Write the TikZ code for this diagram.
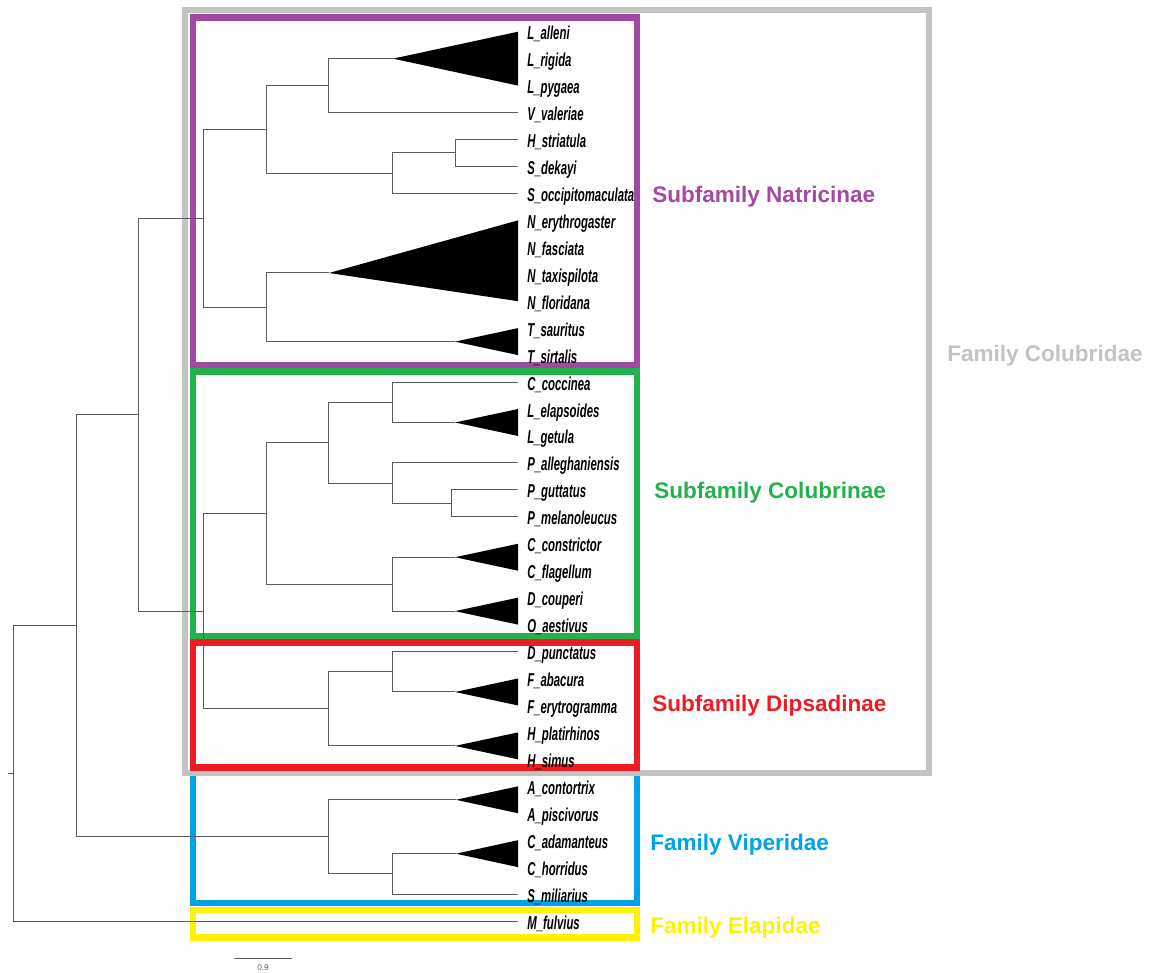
\documentclass[tikz,border=0pt]{standalone}
\usepackage{fontspec}
\setmainfont{Liberation Sans}
\newfontfamily\leaffont[FakeStretch=0.61]{Liberation Sans}
\usetikzlibrary{calc}
\definecolor{cpurple}{HTML}{A349A4}
\definecolor{cgreen}{HTML}{22B14C}
\definecolor{cred}{HTML}{ED1C24}
\definecolor{cblue}{HTML}{00A2E8}
\definecolor{cyellow}{HTML}{FFF200}
\definecolor{cgray}{HTML}{C3C3C3}
\definecolor{branch}{HTML}{5A5A5A}
\tikzset{
  br/.style={draw=branch, line width=0.75pt},
  tri/.style={fill=black},
  leaf/.style={anchor=base west, inner sep=0pt, font=\leaffont\bfseries\itshape\fontsize{14}{16}\selectfont},
  grp/.style={anchor=base west, inner sep=0pt, font=\bfseries\fontsize{16.9}{20}\selectfont},
  gbox/.style={line width=4.9pt}
}
\begin{document}
\begin{tikzpicture}[x=0.75pt,y=-0.75pt]
\useasboundingbox (0,0) rectangle (1162,973);
% group boxes
\draw[gbox, cblue] (193,773) rectangle (637,903);
\draw[gbox, cyellow] (193,910) rectangle (637,937.5);
\draw[gbox, cgray] (185,10) rectangle (929,773);
\draw[gbox, cpurple] (193,17.3) rectangle (637,365.7);
\draw[gbox, cgreen] (193,371.5) rectangle (637,636);
\draw[gbox, cred] (193,642.5) rectangle (637,767.5);
% leaves
\foreach \n [count=\i from 0] in {L\_alleni,L\_rigida,L\_pygaea,V\_valeriae,H\_striatula,S\_dekayi,S\_occipitomaculata,N\_erythrogaster,N\_fasciata,N\_taxispilota,N\_floridana,T\_sauritus,T\_sirtalis,C\_coccinea,L\_elapsoides,L\_getula,P\_alleghaniensis,P\_guttatus,P\_melanoleucus,C\_constrictor,C\_flagellum,D\_couperi,O\_aestivus,D\_punctatus,F\_abacura,F\_erytrogramma,H\_platirhinos,H\_simus,A\_contortrix,A\_piscivorus,C\_adamanteus,C\_horridus,S\_miliarius,M\_fulvius}{
  \coordinate (l\i) at (518,{31.7+26.95*\i});
  \node[leaf] (t\i) at (527,{39.7+26.95*\i}) {\n};
}
% internal nodes and collapsed-clade apices
\coordinate (aL) at (393,58.65);
\coordinate (nL) at (328,85.6);
\coordinate (nHS) at (455,152.98);
\coordinate (nHSS) at (392,173.19);
\coordinate (nA) at (266,129.4);
\coordinate (aN) at (329,273);
\coordinate (aT) at (455,341.63);
\coordinate (nB) at (266,307.3);
\coordinate (nNat) at (203,218.35);
\coordinate (aLe) at (455,422.48);
\coordinate (nCc) at (392,402.26);
\coordinate (nPgm) at (451,503.33);
\coordinate (nP) at (392,483.1);
\coordinate (nCL) at (328,442.7);
\coordinate (aCc) at (455,557.23);
\coordinate (aD) at (455,611.13);
\coordinate (nCD) at (392,584.18);
\coordinate (nCol) at (266,513.44);
\coordinate (aF) at (455,691.98);
\coordinate (nDF) at (392,671.76);
\coordinate (aH) at (455,745.88);
\coordinate (nDip) at (328,708.82);
\coordinate (nCD2) at (203,611.13);
\coordinate (nColub) at (138,414.74);
\coordinate (aA) at (456,799.78);
\coordinate (aCr) at (456,853.68);
\coordinate (nCr) at (392,873.89);
\coordinate (nVip) at (328,836.83);
\coordinate (nCV) at (76,625.79);
\coordinate (root) at (13,773.42);
\coordinate (rtick) at (8,773.42);
% collapsed clades
\fill[tri] (aL) -- (l0) -- (l2) -- cycle;
\fill[tri] (aN) -- (l7) -- (l10) -- cycle;
\fill[tri] (aT) -- (l11) -- (l12) -- cycle;
\fill[tri] (aLe) -- (l14) -- (l15) -- cycle;
\fill[tri] (aCc) -- (l19) -- (l20) -- cycle;
\fill[tri] (aD) -- (l21) -- (l22) -- cycle;
\fill[tri] (aF) -- (l24) -- (l25) -- cycle;
\fill[tri] (aH) -- (l26) -- (l27) -- cycle;
\fill[tri] (aA) -- (l28) -- (l29) -- cycle;
\fill[tri] (aCr) -- (l30) -- (l31) -- cycle;
% branches
\draw[br] (rtick) -- (root);
\draw[br] (root) |- (nCV);
\draw[br] (root) |- (l33);
\draw[br] (nCV) |- (nColub);
\draw[br] (nCV) |- (nVip);
\draw[br] (nColub) |- (nNat);
\draw[br] (nColub) |- (nCD2);
\draw[br] (nNat) |- (nA);
\draw[br] (nNat) |- (nB);
\draw[br] (nA) |- (nL);
\draw[br] (nA) |- (nHSS);
\draw[br] (nL) |- (aL);
\draw[br] (nL) |- (l3);
\draw[br] (nHSS) |- (nHS);
\draw[br] (nHSS) |- (l6);
\draw[br] (nHS) |- (l4);
\draw[br] (nHS) |- (l5);
\draw[br] (nB) |- (aN);
\draw[br] (nB) |- (aT);
\draw[br] (nCD2) |- (nCol);
\draw[br] (nCD2) |- (nDip);
\draw[br] (nCol) |- (nCL);
\draw[br] (nCol) |- (nCD);
\draw[br] (nCL) |- (nCc);
\draw[br] (nCL) |- (nP);
\draw[br] (nCc) |- (l13);
\draw[br] (nCc) |- (aLe);
\draw[br] (nP) |- (l16);
\draw[br] (nP) |- (nPgm);
\draw[br] (nPgm) |- (l17);
\draw[br] (nPgm) |- (l18);
\draw[br] (nCD) |- (aCc);
\draw[br] (nCD) |- (aD);
\draw[br] (nDip) |- (nDF);
\draw[br] (nDip) |- (aH);
\draw[br] (nDF) |- (l23);
\draw[br] (nDF) |- (aF);
\draw[br] (nVip) |- (aA);
\draw[br] (nVip) |- (nCr);
\draw[br] (nCr) |- (aCr);
\draw[br] (nCr) |- (l32);
% group labels
\node[grp, text=cpurple] (gNat) at (652,202.5) {Subfamily Natricinae};
\node[grp, text=cgray] (gColub) at (947,361.5) {Family Colubridae};
\node[grp, text=cgreen] (gCol) at (654,498) {Subfamily Colubrinae};
\node[grp, text=cred] (gDip) at (652,711) {Subfamily Dipsadinae};
\node[grp, text=cblue] (gVip) at (650,850) {Family Viperidae};
\node[grp, text=cyellow] (gEla) at (650,933) {Family Elapidae};
% scale bar
\coordinate (sb1) at (234,958);
\coordinate (sb2) at (292,958);
\draw[br] (sb1) -- (sb2);
\node[inner sep=0pt, text=branch, font=\fontsize{6.2}{7}\selectfont] (sbl) at (263,968) {0.9};
\end{tikzpicture}
\end{document}
